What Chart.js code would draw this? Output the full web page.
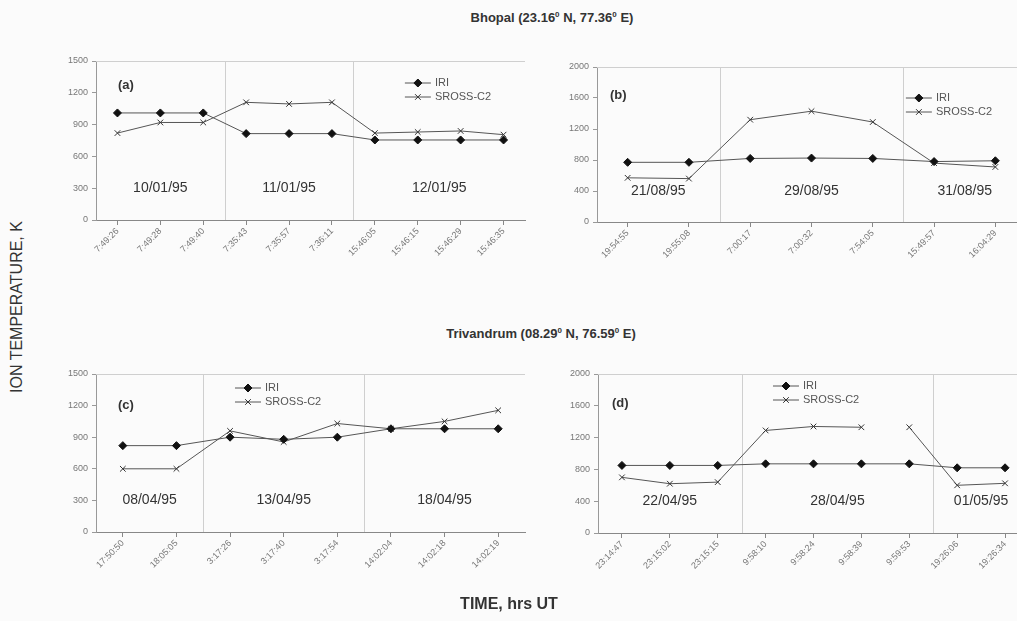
<!DOCTYPE html>
<html>
<head>
<meta charset="utf-8">
<script src="https://cdn.jsdelivr.net/npm/chart.js@4.4.1/dist/chart.umd.min.js"></script>
<style>
  body { margin: 0; background: #fbfbfb; overflow: hidden; font-family: Arial, 'Liberation Sans', sans-serif; }
  #page { position: relative; width: 1017px; height: 621px; overflow: hidden; }
  canvas { position: absolute; }
  .txt { position: absolute; color: #333; white-space: nowrap; transform: translate(-50%, -50%); }
  sup { font-size: 8px; vertical-align: 5px; line-height: 0; }
</style>
</head>
<body>
<div id="page">
  <canvas id="chartA" width="490" height="245" style="left:40px;top:45px"></canvas>
  <canvas id="chartB" width="491" height="245" style="left:540px;top:50px"></canvas>
  <canvas id="chartC" width="490" height="245" style="left:40px;top:358px"></canvas>
  <canvas id="chartD" width="493" height="245" style="left:541px;top:358px"></canvas>

  <div class="txt" style="left:552px;top:17px;font-size:13px;font-weight:bold">Bhopal (23.16<sup>0</sup> N, 77.36<sup>0</sup> E)</div>
  <div class="txt" style="left:541px;top:333px;font-size:13px;font-weight:bold">Trivandrum (08.29<sup>0</sup> N, 76.59<sup>0</sup> E)</div>
  <div class="txt" style="left:17px;top:307px;font-size:16px;transform:translate(-50%,-50%) rotate(-90deg)">ION TEMPERATURE, K</div>
  <div class="txt" style="left:509px;top:604px;font-size:16px;font-weight:bold">TIME, hrs UT</div>
</div>
<script>
// Bhopal, January 1995
const timesA = ['7:49:26', '7:49:28', '7:49:40', '7:35:43', '7:35:57', '7:36:11', '15:46:05', '15:46:15', '15:46:29', '15:46:35'];
const iriA = [1010, 1010, 1010, 815, 815, 815, 755, 755, 755, 755];
const srossA = [820, 920, 920, 1110, 1095, 1110, 820, 830, 840, 805];
const datesA = ['10/01/95', '11/01/95', '12/01/95'];
const groupsA = [3, 3, 4];

// Bhopal, August 1995
const timesB = ['19:54:55', '19:55:08', '7:00:17', '7:00:32', '7:54:05', '15:49:57', '16:04:29'];
const iriB = [770, 770, 820, 825, 820, 780, 790];
const srossB = [570, 560, 1320, 1430, 1290, 760, 710];
const datesB = ['21/08/95', '29/08/95', '31/08/95'];
const groupsB = [2, 3, 2];

// Trivandrum, April 1995
const timesC = ['17:50:50', '18:05:05', '3:17:26', '3:17:40', '3:17:54', '14:02:04', '14:02:18', '14:02:19'];
const iriC = [820, 820, 900, 880, 900, 980, 980, 980];
const srossC = [600, 600, 960, 855, 1030, 980, 1050, 1155];
const datesC = ['08/04/95', '13/04/95', '18/04/95'];
const groupsC = [2, 3, 3];

// Trivandrum, April/May 1995 (no line between 9:58:39 and 9:59:53)
const timesD = ['23:14:47', '23:15:02', '23:15:15', '9:58:10', '9:58:24', '9:58:39', '9:59:53', '19:26:06', '19:26:34'];
const iriD = [850, 850, 850, 870, 870, 870, 870, 820, 820];
const srossD = [700, 620, 640, 1290, 1340, 1330, 1330, 600, 625];
const srossBreakD = 5;
const datesD = ['22/04/95', '28/04/95', '01/05/95'];
const groupsD = [3, 4, 2];

const ticksTK1500 = [0, 300, 600, 900, 1200, 1500];
const ticksTK2000 = [0, 400, 800, 1200, 1600, 2000];

const LINE = '#555';

function makePanel(id, p) {
  const decor = {
    id: 'decor',
    beforeDatasetsDraw(chart) {
      const { ctx, chartArea: a, scales: { x, y } } = chart;
      ctx.save();
      ctx.strokeStyle = '#cfcfcf';
      ctx.lineWidth = 1;
      ctx.beginPath();
      ctx.moveTo(a.left, a.top + 0.5);
      ctx.lineTo(a.right, a.top + 0.5);
      let idx = 0;
      p.groups.slice(0, -1).forEach(n => {
        idx += n;
        const bx = Math.round((x.getPixelForValue(idx - 1) + x.getPixelForValue(idx)) / 2) + 0.5;
        ctx.moveTo(bx, a.top);
        ctx.lineTo(bx, a.bottom);
      });
      ctx.stroke();

      // date of each pass
      ctx.fillStyle = '#333';
      ctx.font = '14px Arial, "Liberation Sans", sans-serif';
      ctx.textAlign = 'center';
      ctx.textBaseline = 'middle';
      let start = 0;
      p.groups.forEach((n, i) => {
        const cx = (x.getPixelForValue(start) + x.getPixelForValue(start + n - 1)) / 2;
        ctx.fillText(p.dates[i], cx, y.getPixelForValue(p.ticks[1]));
        start += n;
      });

      // panel letter
      ctx.font = 'bold 13px Arial, "Liberation Sans", sans-serif';
      ctx.textAlign = 'left';
      ctx.fillText(p.letter, a.left + p.letX, a.top + p.letY);
      ctx.restore();
    },
    afterDraw(chart) {
      const { ctx, chartArea: a } = chart;
      ctx.save();
      const x0 = a.left + p.legX * (a.right - a.left);
      chart.data.datasets.forEach((ds, i) => {
        const ly = a.top + p.legY + i * 14;
        ctx.strokeStyle = LINE;
        ctx.lineWidth = 1;
        ctx.beginPath();
        ctx.moveTo(x0, ly);
        ctx.lineTo(x0 + 26, ly);
        ctx.stroke();
        ctx.fillStyle = ds.pointBackgroundColor;
        ctx.strokeStyle = ds.pointBorderColor;
        Chart.helpers.drawPoint(ctx, { pointStyle: ds.pointStyle, radius: ds.pointRadius, borderWidth: 1, rotation: 0 }, x0 + 13, ly);
        ctx.fillStyle = '#555';
        ctx.font = '11px Arial, "Liberation Sans", sans-serif';
        ctx.textAlign = 'left';
        ctx.textBaseline = 'middle';
        ctx.fillText(ds.label, x0 + 30, ly);
      });
      ctx.restore();
    }
  };

  return new Chart(document.getElementById(id), {
    type: 'line',
    data: {
      labels: p.times,
      datasets: [
        {
          label: 'IRI', data: p.iri,
          borderColor: LINE, borderWidth: 1, tension: 0,
          pointStyle: 'rectRot', pointRadius: 4,
          pointBackgroundColor: '#111', pointBorderColor: '#111', pointBorderWidth: 1
        },
        {
          label: 'SROSS-C2', data: p.sross,
          borderColor: LINE, borderWidth: 1, tension: 0,
          pointStyle: 'crossRot', pointRadius: 4,
          pointBackgroundColor: '#333', pointBorderColor: '#333', pointBorderWidth: 1,
          segment: { borderColor: c => (c.p0DataIndex === p.breakAt ? 'rgba(0,0,0,0)' : LINE) }
        }
      ]
    },
    options: {
      responsive: false,
      animation: false,
      layout: { padding: { top: p.padTop, right: 5, left: 0, bottom: 0 } },
      plugins: { legend: { display: false }, tooltip: { enabled: false } },
      scales: {
        x: {
          offset: true,
          grid: { offset: false, drawOnChartArea: false, color: '#888', tickLength: 5 },
          border: { color: '#888' },
          ticks: { minRotation: 45, maxRotation: 45, autoSkip: false, padding: 1, color: '#777', font: { size: 9 } },
          afterFit: s => { s.height = p.xH; s.paddingLeft = 0; s.paddingRight = 0; }
        },
        y: {
          min: 0,
          max: p.ticks[p.ticks.length - 1],
          grid: { drawOnChartArea: false, color: '#999', tickLength: 4 },
          border: { color: '#999' },
          ticks: { stepSize: p.ticks[1] - p.ticks[0], padding: 4, color: '#777', font: { size: 9 }, callback: v => String(v) },
          afterFit: s => { s.width = p.yW; }
        }
      }
    },
    plugins: [decor]
  });
}

makePanel('chartA', { times: timesA, iri: iriA, sross: srossA, dates: datesA, groups: groupsA, ticks: ticksTK1500,
  breakAt: -1, letter: '(a)', yW: 56, xH: 70, padTop: 16, legX: 0.72, legY: 22, letX: 22, letY: 24 });
makePanel('chartB', { times: timesB, iri: iriB, sross: srossB, dates: datesB, groups: groupsB, ticks: ticksTK2000,
  breakAt: -1, letter: '(b)', yW: 57, xH: 73, padTop: 17, legX: 0.72, legY: 31, letX: 13, letY: 28 });
makePanel('chartC', { times: timesC, iri: iriC, sross: srossC, dates: datesC, groups: groupsC, ticks: ticksTK1500,
  breakAt: -1, letter: '(c)', yW: 56, xH: 71, padTop: 16, legX: 0.324, legY: 14, letX: 22, letY: 31 });
makePanel('chartD', { times: timesD, iri: iriD, sross: srossD, dates: datesD, groups: groupsD, ticks: ticksTK2000,
  breakAt: srossBreakD, letter: '(d)', yW: 57, xH: 70, padTop: 16, legX: 0.406, legY: 12, letX: 14, letY: 29 });
</script>
</body>
</html>
